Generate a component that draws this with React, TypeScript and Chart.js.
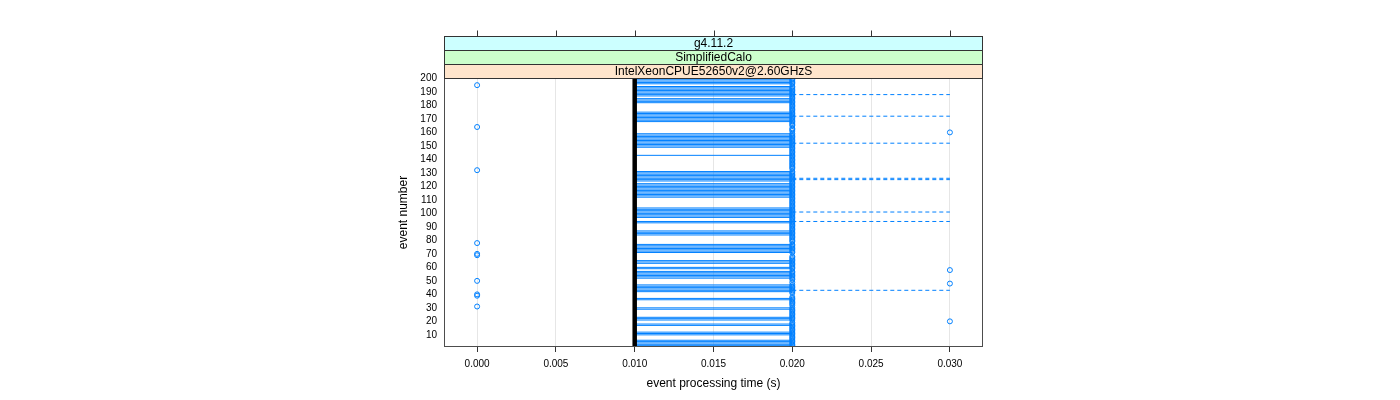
import React, { useEffect, useRef } from "react";
import { Chart, registerables } from "chart.js";

Chart.register(...registerables);

// ---- data -----------------------------------------------------------------
const stripLabels = ["g4.11.2", "SimplifiedCalo", "IntelXeonCPUE52650v2@2.60GHzS"];
const stripColors = ["#ccffff", "#ccffcc", "#ffe5cc"];

const xTickValues = [0, 0.005, 0.01, 0.015, 0.02, 0.025, 0.03];
const yTickValues = [10, 20, 30, 40, 50, 60, 70, 80, 90, 100, 110, 120, 130, 140, 150, 160, 170, 180, 190, 200];

// processing time (s) of events 1..200
const processingTime = [
  0.02, 0.02, 0.02, 0.02, 0.02, 0.02, 0.02, 0.02, 0.02, 0.02, 0.02, 0.02, 0.02, 0.02, 0.02, 0.02, 0.02, 0.02, 0.02, 0.03,
  0.02, 0.02, 0.02, 0.02, 0.02, 0.02, 0.02, 0.02, 0.02, 0.02, 0.0, 0.02, 0.02, 0.02, 0.02, 0.02, 0.02, 0.02, 0.0, 0.0,
  0.02, 0.02, 0.02, 0.02, 0.02, 0.02, 0.02, 0.03, 0.02, 0.0, 0.02, 0.02, 0.02, 0.02, 0.02, 0.02, 0.02, 0.03, 0.02, 0.02,
  0.02, 0.02, 0.02, 0.02, 0.02, 0.02, 0.02, 0.02, 0.0, 0.0, 0.02, 0.02, 0.02, 0.02, 0.02, 0.02, 0.02, 0.0, 0.02, 0.02,
  0.02, 0.02, 0.02, 0.02, 0.02, 0.02, 0.02, 0.02, 0.02, 0.02, 0.02, 0.02, 0.02, 0.02, 0.02, 0.02, 0.02, 0.02, 0.02, 0.02,
  0.02, 0.02, 0.02, 0.02, 0.02, 0.02, 0.02, 0.02, 0.02, 0.02, 0.02, 0.02, 0.02, 0.02, 0.02, 0.02, 0.02, 0.02, 0.02, 0.02,
  0.02, 0.02, 0.02, 0.02, 0.02, 0.02, 0.02, 0.02, 0.02, 0.02, 0.02, 0.0, 0.02, 0.02, 0.02, 0.02, 0.02, 0.02, 0.02, 0.02,
  0.02, 0.02, 0.02, 0.02, 0.02, 0.02, 0.02, 0.02, 0.02, 0.02, 0.02, 0.02, 0.02, 0.02, 0.02, 0.02, 0.02, 0.02, 0.02, 0.03,
  0.02, 0.02, 0.02, 0.0, 0.02, 0.02, 0.02, 0.02, 0.02, 0.02, 0.02, 0.02, 0.02, 0.02, 0.02, 0.02, 0.02, 0.02, 0.02, 0.02,
  0.02, 0.02, 0.02, 0.02, 0.02, 0.02, 0.02, 0.02, 0.02, 0.02, 0.02, 0.02, 0.02, 0.02, 0.0, 0.02, 0.02, 0.02, 0.02, 0.02,
];

// reference (median) time, drawn as the thick black line
const referenceTime = 0.01;
const solidLineEnd = 0.02;

// events joined by a solid segment from the reference time to 0.020 s
const solidLineEvents = [
  1, 2, 3, 4, 5, 6, 10, 11, 12, 17, 18, 21, 22, 23, 29, 30, 36, 37,
  42, 43, 44, 45, 46, 47, 52, 53, 54, 55, 56, 57, 59, 60, 63, 64, 65,
  71, 72, 73, 74, 75, 76, 77, 84, 85, 86, 87, 93, 94,
  97, 98, 99, 100, 101, 102, 103, 104,
  112, 113, 114, 115, 116, 117, 118, 119, 120, 121, 122, 124, 125, 126, 127, 128, 129, 130, 131,
  143, 149, 150, 151, 152, 153, 154, 155, 156, 157, 158, 159,
  168, 169, 170, 171, 172, 173, 174, 175,
  182, 183, 184, 185, 187, 188, 189, 190, 191, 192, 193, 194, 196, 197, 198, 199,
];

// events with a dashed segment from 0.020 s to 0.030 s
const dashedLineEvents = [1, 43, 94, 101, 125, 126, 152, 172, 188];
const dashedLineStart = 0.02;
const dashedLineEnd = 0.03;

const X_MIN = -0.0021;
const X_MAX = 0.0321;
const Y_MIN = 1;
const Y_MAX = 200.3;

// ---- helpers ----------------------------------------------------------------
const FONT = '"Liberation Sans", Arial, Helvetica, sans-serif';
const BLUE = "#0080ff";

function segments(events: number[], x0: number, x1: number) {
  const out: { x: number; y: number | null }[] = [];
  events.forEach((e) => {
    out.push({ x: x0, y: e });
    out.push({ x: x1, y: e });
    out.push({ x: x1, y: null });
  });
  return out;
}

const panelPlugin = {
  id: "latticePanel",
  afterDraw(chart: any) {
    const { ctx, chartArea, scales } = chart;
    const { left, right, top, bottom } = chartArea;
    const xs = scales.x;
    const L = Math.round(left) + 0.5;
    const R = Math.round(right) - 0.5;
    const T = Math.round(top) + 0.5;
    const B = Math.round(bottom) - 0.5;
    ctx.save();
    ctx.lineWidth = 1;
    ctx.strokeStyle = "#4d4d4d";
    ctx.strokeRect(L, T, R - L, B - T);

    const h = 14;
    const n = stripLabels.length;
    stripLabels.forEach((label, i) => {
      const y0 = Math.round(top) - (n - i) * h + 0.5;
      ctx.fillStyle = stripColors[i];
      ctx.fillRect(L, y0, R - L, h);
      ctx.strokeStyle = "#333333";
      ctx.strokeRect(L, y0, R - L, h);
      ctx.fillStyle = "#000000";
      ctx.font = `12px ${FONT}`;
      ctx.textAlign = "center";
      ctx.textBaseline = "middle";
      ctx.fillText(label, (left + right) / 2, y0 + h / 2 + 0.5);
    });

    const stripTop = Math.round(top) - n * h + 0.5;
    ctx.strokeStyle = "#333333";
    xTickValues.forEach((v) => {
      const px = Math.round(xs.getPixelForValue(v)) + 0.5;
      ctx.beginPath();
      ctx.moveTo(px, stripTop - 6);
      ctx.lineTo(px, stripTop);
      ctx.stroke();
    });
    ctx.restore();
  },
};

export default function App() {
  const canvasRef = useRef<HTMLCanvasElement | null>(null);

  useEffect(() => {
    document.body.style.margin = "0";
    const canvas = canvasRef.current;
    if (!canvas) return;

    const points = processingTime.map((t, i) => ({ x: t, y: i + 1 }));

    const chart = new Chart(canvas, {
      type: "scatter",
      data: {
        datasets: [
          {
            type: "scatter",
            label: "events",
            data: points,
            showLine: false,
            pointStyle: "circle",
            pointRadius: 2.5,
            pointHoverRadius: 2.5,
            pointBorderWidth: 1,
            borderColor: BLUE,
            backgroundColor: "rgba(0,0,0,0)",
            pointBackgroundColor: "rgba(0,0,0,0)",
            pointBorderColor: BLUE,
            order: 0,
          } as any,
          {
            type: "line",
            label: "reference",
            data: [
              { x: referenceTime, y: Y_MIN - 5 },
              { x: referenceTime, y: Y_MAX + 5 },
            ],
            borderColor: "#000000",
            borderWidth: 4.5,
            pointRadius: 0,
            tension: 0,
            order: 1,
          } as any,
          {
            type: "line",
            label: "solid",
            data: segments(solidLineEvents, referenceTime, solidLineEnd),
            borderColor: BLUE,
            borderWidth: 1,
            pointRadius: 0,
            spanGaps: false,
            tension: 0,
            order: 2,
          } as any,
          {
            type: "line",
            label: "dashed",
            data: segments(dashedLineEvents, dashedLineStart, dashedLineEnd),
            borderColor: BLUE,
            borderWidth: 1,
            borderDash: [4, 3],
            pointRadius: 0,
            spanGaps: false,
            tension: 0,
            order: 3,
          } as any,
        ],
      },
      options: {
        animation: false,
        responsive: false,
        maintainAspectRatio: false,
        events: [],
        layout: { padding: { left: 380, right: 417, top: 78, bottom: 0 } },
        plugins: {
          legend: { display: false },
          tooltip: { enabled: false },
          title: { display: false },
        },
        scales: {
          x: {
            type: "linear",
            position: "bottom",
            min: X_MIN,
            max: X_MAX,
            afterBuildTicks: (scale: any) => {
              scale.ticks = xTickValues.map((v) => ({ value: v }));
            },
            afterFit: (scale: any) => {
              scale.height = 53;
            },
            grid: {
              display: true,
              color: "#e6e6e6",
              lineWidth: 1,
              drawTicks: true,
              tickLength: 5,
              tickColor: "#333333",
            },
            border: { display: false },
            ticks: {
              color: "#000000",
              font: { family: FONT, size: 10 },
              padding: 6,
              maxRotation: 0,
              autoSkip: false,
              callback: (v: any) => Number(v).toFixed(3),
            },
            title: {
              display: true,
              text: "event processing time (s)",
              color: "#000000",
              font: { family: FONT, size: 12 },
              padding: { top: 0, bottom: 9.5 },
            },
          },
          y: {
            type: "linear",
            position: "left",
            min: Y_MIN,
            max: Y_MAX,
            afterBuildTicks: (scale: any) => {
              scale.ticks = yTickValues.map((v) => ({ value: v }));
            },
            afterFit: (scale: any) => {
              scale.width = 64;
            },
            grid: { display: false, drawTicks: false, tickLength: 0 },
            border: { display: false },
            ticks: {
              color: "#000000",
              font: { family: FONT, size: 10 },
              padding: 7,
              autoSkip: false,
            },
            title: {
              display: true,
              text: "event number",
              color: "#000000",
              font: { family: FONT, size: 12 },
              padding: { top: 16, bottom: 0 },
            },
          },
        },
      },
      plugins: [panelPlugin],
    } as any);

    return () => {
      chart.destroy();
    };
  }, []);

  return (
    <div style={{ width: 1400, height: 400, background: "#ffffff" }}>
      <canvas ref={canvasRef} width={1400} height={400} style={{ display: "block", width: 1400, height: 400 }} />
    </div>
  );
}
